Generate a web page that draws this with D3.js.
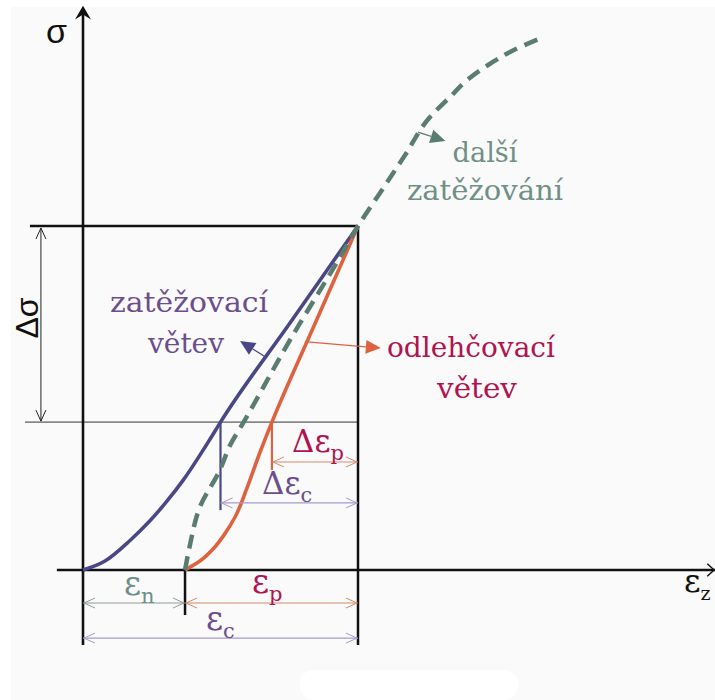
<!DOCTYPE html>
<html>
<head>
<meta charset="utf-8">
<script src="https://cdn.jsdelivr.net/npm/d3@7"></script>
<style>
  html, body { margin: 0; padding: 0; background: #ffffff; }
  svg { display: block; }
  .serif { font-family: "DejaVu Serif", serif; }
  .sans { font-family: "Liberation Sans", Arial, Helvetica, sans-serif; }
</style>
</head>
<body>
<svg id="chart" width="715" height="700"></svg>
<script>
// Stress–strain diagram: loading branch, unloading branch and further loading.
// Strain ε is normalised so that total strain ε_c = 1, stress σ so that σ_max = 1.

const sigmaMax = 1.0;        // upper stress level
const sigmaLow = 0.43;       // lower stress level (Δσ = sigmaMax − sigmaLow)
const epsN = 0.371;          // residual strain ε_n
const epsC = 1.0;            // total strain ε_c
const epsLoadAtLow = 0.5;    // loading branch at σ = sigmaLow
const epsUnloadAtLow = 0.687;// unloading branch at σ = sigmaLow

// Loading branch (zatěžovací větev), [ε, σ]
const loadingBranch = [
  [0, 0], [0.08, 0.026], [0.17, 0.085], [0.24, 0.14], [0.30, 0.195],
  [0.365, 0.262], [0.46, 0.378], [0.50, 0.43], [0.75, 0.715], [1, 1]
];

// Unloading branch (odlehčovací větev), [ε, σ]
const unloadingBranch = [
  [0.371, 0], [0.425, 0.026], [0.473, 0.061], [0.513, 0.102], [0.553, 0.154],
  [0.596, 0.238], [0.644, 0.343], [0.687, 0.43], [0.843, 0.715], [1, 1]
];

// Further loading (další zatěžování), [ε, σ]
const furtherLoading = [
  [0.371, 0], [0.389, 0.073], [0.425, 0.183], [0.498, 0.291], [0.535, 0.363],
  [0.582, 0.427], [0.753, 0.669], [0.935, 0.91], [1, 1], [1.08, 1.096],
  [1.171, 1.206], [1.262, 1.317], [1.335, 1.375], [1.396, 1.424],
  [1.473, 1.468], [1.553, 1.506], [1.673, 1.549]
];

// Branch label lines
const loadingLabel = ["zatěžovací", "větev"];
const unloadingLabel = ["odlehčovací", "větev"];
const furtherLabel = ["další", "zatěžování"];

const colors = {
  loading: "#4b4786",
  unloading: "#de6240",
  further: "#5b7d6f",
  loadingText: "#6c4e8e",
  unloadingText: "#b0134f",
  furtherText: "#6f8f87",
  dimN: "#8d9c96",
  dimP: "#d28a6c",
  dimC: "#a49bc9"
};

const W = 715, H = 700;
const svg = d3.select("#chart");

const x = d3.scaleLinear().domain([0, 1]).range([83, 358]);
const y = d3.scaleLinear().domain([0, 1]).range([570, 226]);

// paper background
svg.append("rect").attr("width", W).attr("height", H).attr("fill", "#ffffff");
svg.append("rect").attr("x", 11).attr("y", 7).attr("width", W - 11).attr("height", H - 7).attr("fill", "#fafafa");
svg.append("rect").attr("x", 300).attr("y", 670).attr("width", 218).attr("height", 30).attr("rx", 14).attr("fill", "#ffffff");

const lineX = d3.line().x(d => x(d[0])).y(d => y(d[1])).curve(d3.curveMonotoneX);
const lineY = d3.line().x(d => x(d[0])).y(d => y(d[1])).curve(d3.curveMonotoneY);

// helper: straight segment in data coordinates
function seg(e0, s0, e1, s1, stroke, width) {
  svg.append("line")
    .attr("x1", x(e0)).attr("y1", y(s0))
    .attr("x2", x(e1)).attr("y2", y(s1))
    .attr("stroke", stroke).attr("stroke-width", width);
}

// open chevron arrow head at pixel point (px,py), pointing in direction angle (rad)
function chevron(px, py, ang, stroke) {
  const L = 11, Wd = 5;
  const bx = px - L * Math.cos(ang), by = py - L * Math.sin(ang);
  const nx = -Math.sin(ang), ny = Math.cos(ang);
  svg.append("path")
    .attr("d", `M${bx + nx * Wd},${by + ny * Wd}L${px},${py}L${bx - nx * Wd},${by - ny * Wd}`)
    .attr("fill", "none").attr("stroke", stroke).attr("stroke-width", 1);
}

// horizontal dimension line with arrowheads at both ends
function hDim(e0, e1, s, stroke) {
  const yy = y(s), xa = x(e0), xb = x(e1);
  svg.append("line").attr("x1", xa).attr("x2", xb).attr("y1", yy).attr("y2", yy)
    .attr("stroke", stroke).attr("stroke-width", 1.2);
  chevron(xa + 1, yy, Math.PI, stroke);
  chevron(xb - 1, yy, 0, stroke);
}

// ---- frame / reference lines ----
seg(-0.193, sigmaMax, epsC, sigmaMax, "#111", 2.5);          // σ_max level
seg(-0.211, sigmaLow, epsC, sigmaLow, "#333", 1);            // lower level
seg(epsC, sigmaMax, epsC, -0.218, "#111", 2.5);              // ε_c extension
seg(epsN, 0, epsN, -0.131, "#111", 2.5);                     // ε_n extension
seg(epsLoadAtLow, sigmaLow, epsLoadAtLow, 0.174, colors.loading, 2.2);
seg(epsUnloadAtLow, sigmaLow, epsUnloadAtLow, 0.291, colors.unloading, 2.2);

// ---- axes ----
seg(-0.095, 0, 2.3, 0, "#111", 2.6);     // ε axis
seg(0, -0.218, 0, 1.62, "#111", 2.6);    // σ axis
svg.append("path")
  .attr("d", `M${x(0)},${y(1.64)}L${x(0) + 8},${y(1.60)}L${x(0)},${y(1.615)}L${x(0) - 8},${y(1.60)}Z`)
  .attr("fill", "#111");
svg.append("path")
  .attr("d", `M${x(2.295)},${y(0)}L${x(2.27)},${y(0.018)}M${x(2.295)},${y(0)}L${x(2.27)},${y(-0.018)}`)
  .attr("stroke", "#111").attr("stroke-width", 1.5);

// ---- curves ----
svg.append("path").datum(loadingBranch).attr("d", lineX)
  .attr("fill", "none").attr("stroke", colors.loading).attr("stroke-width", 3.6);
svg.append("path").datum(unloadingBranch).attr("d", lineY)
  .attr("fill", "none").attr("stroke", colors.unloading).attr("stroke-width", 3.6);
svg.append("path").datum(furtherLoading).attr("d", lineY)
  .attr("fill", "none").attr("stroke", colors.further).attr("stroke-width", 4.5)
  .attr("stroke-dasharray", "14 8");

// ---- dimension lines ----
// Δσ
{
  const xx = x(-0.153), ya = y(sigmaMax) + 2, yb = y(sigmaLow) - 1;
  svg.append("line").attr("x1", xx).attr("x2", xx).attr("y1", ya).attr("y2", yb)
    .attr("stroke", "#222").attr("stroke-width", 1);
  chevron(xx, ya, -Math.PI / 2, "#222");
  chevron(xx, yb, Math.PI / 2, "#222");
}
hDim(0, epsN, -0.096, colors.dimN);
hDim(epsN, epsC, -0.096, colors.dimP);
hDim(0, epsC, -0.198, colors.dimC);
hDim(epsUnloadAtLow, epsC, 0.314, colors.dimP);
hDim(epsLoadAtLow, epsC, 0.195, colors.dimC);

// ---- callout arrows (from curve to label) ----
function callout(from, to, color, width) {
  const x0 = x(from[0]), y0 = y(from[1]), x1 = x(to[0]), y1 = y(to[1]);
  const ang = Math.atan2(y1 - y0, x1 - x0);
  const L = 15, Wd = 7;
  const bx = x1 - L * Math.cos(ang), by = y1 - L * Math.sin(ang);
  const nx = -Math.sin(ang), ny = Math.cos(ang);
  svg.append("line").attr("x1", x0).attr("y1", y0).attr("x2", bx).attr("y2", by)
    .attr("stroke", color).attr("stroke-width", width);
  svg.append("path")
    .attr("d", `M${x1},${y1}L${bx + nx * Wd},${by + ny * Wd}L${bx - nx * Wd},${by - ny * Wd}Z`)
    .attr("fill", color);
}
callout([0.664, 0.619], [0.571, 0.666], colors.loading, 1.2);
callout([0.815, 0.663], [1.083, 0.645], colors.unloading, 1.2);
callout([1.218, 1.273], [1.318, 1.247], colors.further, 1.2);

// ---- texts ----
function stretchText(str, cx, baseline, len, size, color) {
  svg.append("text").attr("class", "serif").attr("x", cx - len / 2).attr("y", baseline)
    .attr("font-size", size).attr("fill", color)
    .attr("textLength", len).attr("lengthAdjust", "spacingAndGlyphs")
    .text(str);
}
stretchText(loadingLabel[0], 189, 312, 158, 28, colors.loadingText);
stretchText(loadingLabel[1], 186, 353, 76, 28, colors.loadingText);
stretchText(unloadingLabel[0], 471, 357, 168, 28, colors.unloadingText);
stretchText(unloadingLabel[1], 477, 398, 80, 28, colors.unloadingText);
stretchText(furtherLabel[0], 485, 162, 65, 28, colors.furtherText);
stretchText(furtherLabel[1], 485, 200, 156, 28, colors.furtherText);

// axis symbols
svg.append("text").attr("class", "sans").attr("x", 46).attr("y", 43)
  .attr("font-size", 34).attr("fill", "#111").text("σ");
svg.append("text").attr("class", "sans").attr("transform", "translate(38,318) rotate(-90)")
  .attr("text-anchor", "middle")
  .attr("font-size", 32).attr("fill", "#111").text("Δσ");

// strain symbols with subscripts
function epsLabel(prefix, sub, xx, baseline, color, size, subSize) {
  const t = svg.append("text").attr("class", "serif").attr("x", xx).attr("y", baseline)
    .attr("font-size", size).attr("fill", color);
  t.append("tspan").text(prefix + "ε");
  t.append("tspan").attr("dy", 8).attr("font-size", subSize).text(sub);
}
epsLabel("", "n", 124, 595, colors.furtherText, 33, 21);
epsLabel("", "p", 252, 593, colors.unloadingText, 33, 21);
epsLabel("", "c", 206, 630, colors.loadingText, 33, 21);
epsLabel("Δ", "p", 292, 452, colors.unloadingText, 31, 21);
epsLabel("Δ", "c", 262, 494, colors.loadingText, 31, 21);
epsLabel("", "z", 684, 592, "#111", 32, 19);
</script>
</body>
</html>
